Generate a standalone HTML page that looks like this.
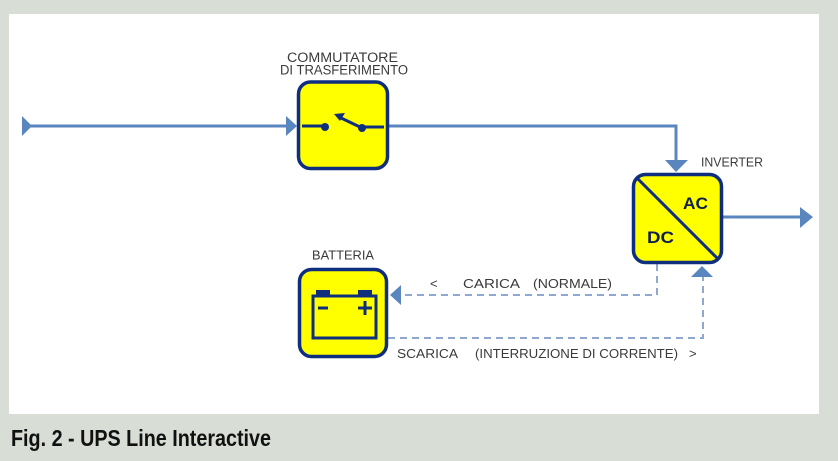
<!DOCTYPE html>
<html><head><meta charset="utf-8"><style>
html,body{margin:0;padding:0;background:#d8ddd6;}
svg{display:block;}
</style></head><body>
<svg width="838" height="461" viewBox="0 0 838 461" xmlns="http://www.w3.org/2000/svg">
<rect x="0" y="0" width="838" height="461" fill="#d8ddd6"/>
<rect x="9" y="14" width="810" height="400" fill="#ffffff"/>

<!-- input line -->
<line x1="24" y1="126" x2="290" y2="126" stroke="#5a86bf" stroke-width="3"/>
<polygon points="22,116 32,126 22,136" fill="#5a86bf"/>
<polygon points="286,116 297,126 286,136" fill="#5a86bf"/>

<!-- switch to inverter -->
<polyline points="389,126 676,126 676,162" fill="none" stroke="#5a86bf" stroke-width="3"/>
<polygon points="665,160 688,160 676,172" fill="#5a86bf"/>

<!-- output -->
<line x1="722" y1="217" x2="802" y2="217" stroke="#5a86bf" stroke-width="3"/>
<polygon points="800,207 813,217 800,228" fill="#5a86bf"/>

<!-- dashed carica -->
<polyline points="657,264 657,295 400,295" fill="none" stroke="#8ea8cf" stroke-width="2" stroke-dasharray="7,5"/>
<polygon points="401,285 390,295 401,305" fill="#5a86bf"/>

<!-- dashed scarica -->
<polyline points="388,338 703,338 703,277" fill="none" stroke="#8ea8cf" stroke-width="2" stroke-dasharray="7,5"/>
<polygon points="691,277 713,277 702,266" fill="#5a86bf"/>

<!-- switch box -->
<rect x="298.5" y="82" width="89" height="86.5" rx="12" fill="#ffff00" stroke="#0f2f7e" stroke-width="3.5"/>
<line x1="302" y1="126" x2="325" y2="126" stroke="#0f2f7e" stroke-width="3"/>
<circle cx="325" cy="127" r="4" fill="#0f2f7e"/>
<line x1="362" y1="127" x2="384" y2="127" stroke="#0f2f7e" stroke-width="3"/>
<circle cx="362" cy="128" r="4" fill="#0f2f7e"/>
<line x1="362" y1="128" x2="339" y2="117" stroke="#0f2f7e" stroke-width="3"/>
<polygon points="334,114 345,113 340,121" fill="#0f2f7e"/>

<text x="287" y="62" font-family="'Liberation Sans',sans-serif" font-size="13.5" fill="#3a3a3a" textLength="111" lengthAdjust="spacingAndGlyphs">COMMUTATORE</text>
<text x="280" y="74.5" font-family="'Liberation Sans',sans-serif" font-size="13.5" fill="#3a3a3a" textLength="128" lengthAdjust="spacingAndGlyphs">DI TRASFERIMENTO</text>

<!-- inverter -->
<rect x="633.5" y="174.5" width="88" height="88" rx="12" fill="#ffff00" stroke="#0f2f7e" stroke-width="3.5"/>
<line x1="636" y1="177" x2="719" y2="260" stroke="#0f2f7e" stroke-width="3"/>
<text x="683" y="209" font-family="'Liberation Sans',sans-serif" font-size="17" font-weight="bold" fill="#0f1f4e" textLength="25" lengthAdjust="spacingAndGlyphs">AC</text>
<text x="647" y="243" font-family="'Liberation Sans',sans-serif" font-size="17" font-weight="bold" fill="#0f1f4e" textLength="27" lengthAdjust="spacingAndGlyphs">DC</text>
<text x="701" y="166.5" font-family="'Liberation Sans',sans-serif" font-size="12.5" fill="#3a3a3a" textLength="62" lengthAdjust="spacingAndGlyphs">INVERTER</text>

<!-- battery -->
<rect x="299.5" y="269.5" width="87" height="87" rx="12" fill="#ffff00" stroke="#0f2f7e" stroke-width="3.5"/>
<rect x="313" y="296" width="63" height="42" fill="none" stroke="#0f2f7e" stroke-width="3"/>
<rect x="316" y="290" width="14" height="6" fill="#0f2f7e"/>
<rect x="358" y="290" width="14" height="6" fill="#0f2f7e"/>
<line x1="318" y1="308" x2="328" y2="308" stroke="#0f2f7e" stroke-width="3"/>
<line x1="358" y1="308" x2="372" y2="308" stroke="#0f2f7e" stroke-width="3"/>
<line x1="365" y1="301" x2="365" y2="315" stroke="#0f2f7e" stroke-width="3"/>
<text x="312" y="259.5" font-family="'Liberation Sans',sans-serif" font-size="12.5" fill="#3a3a3a" textLength="62" lengthAdjust="spacingAndGlyphs">BATTERIA</text>

<!-- labels -->
<g font-family="'Liberation Sans',sans-serif" font-size="13" fill="#3a3a3a">
<text x="430" y="288">&lt;</text>
<text x="463" y="288" textLength="57" lengthAdjust="spacingAndGlyphs">CARICA</text>
<text x="533" y="288" textLength="79" lengthAdjust="spacingAndGlyphs">(NORMALE)</text>
<text x="397" y="358" textLength="61" lengthAdjust="spacingAndGlyphs">SCARICA</text>
<text x="475" y="358" textLength="203" lengthAdjust="spacingAndGlyphs">(INTERRUZIONE DI CORRENTE)</text>
<text x="689" y="358">&gt;</text>
</g>

<!-- caption -->
<text x="11" y="446" font-family="'Liberation Sans Narrow','Liberation Sans',sans-serif" font-size="23" font-weight="bold" fill="#111" textLength="260" lengthAdjust="spacingAndGlyphs">Fig. 2 - UPS Line Interactive</text>
</svg>
</body></html>
